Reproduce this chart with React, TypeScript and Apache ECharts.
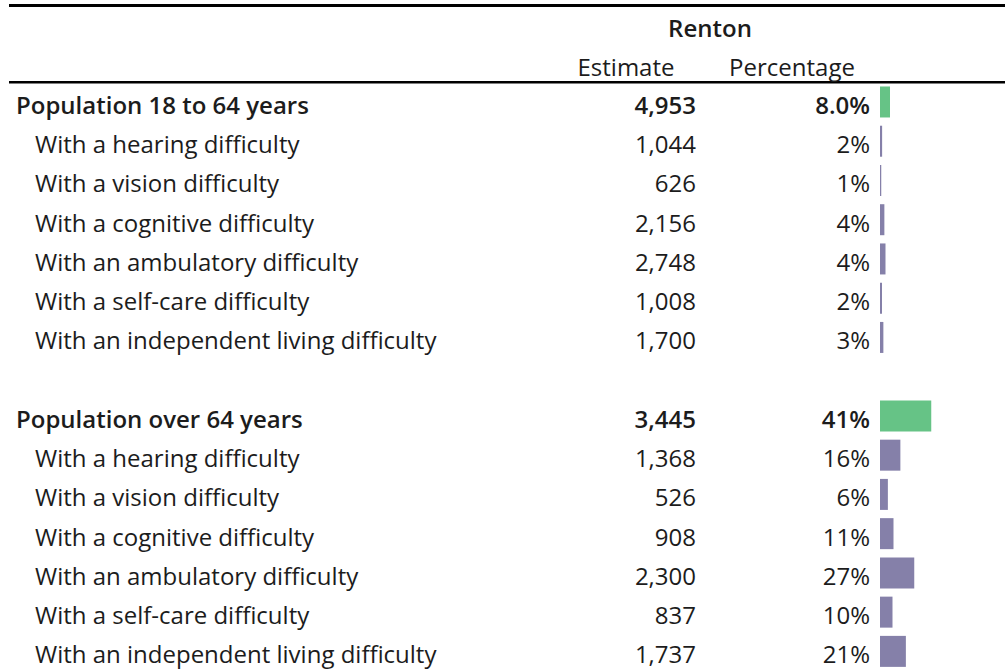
import React, { useEffect, useRef } from "react";
import * as echarts from "echarts";

const rowLabels = [
  "Population 18 to 64 years",
  "With a hearing difficulty",
  "With a vision difficulty",
  "With a cognitive difficulty",
  "With an ambulatory difficulty",
  "With a self-care difficulty",
  "With an independent living difficulty",
  "",
  "Population over 64 years",
  "With a hearing difficulty",
  "With a vision difficulty",
  "With a cognitive difficulty",
  "With an ambulatory difficulty",
  "With a self-care difficulty",
  "With an independent living difficulty",
];
const isHeaderRow = [true, false, false, false, false, false, false, false, true, false, false, false, false, false, false];
const estimates: (number | null)[] = [4953, 1044, 626, 2156, 2748, 1008, 1700, null, 3445, 1368, 526, 908, 2300, 837, 1737];
const percentLabels = ["8.0%", "2%", "1%", "4%", "4%", "2%", "3%", "", "41%", "16%", "6%", "11%", "27%", "10%", "21%"];
const percentValues: (number | null)[] = [8.0, 1.7, 1.0, 3.5, 4.4, 1.6, 2.7, null, 41, 16.3, 6.3, 10.8, 27.4, 10.0, 20.7];
const columnTitle = "Renton";
const colHeaders = ["Estimate", "Percentage"];

const FONT = "'Open Sans', Lato, sans-serif";
const FS = 24;
const TEXT = "#1c1c1c";
const GREEN = "#66c386";
const PURPLE = "#8580a9";

export default function App() {
  const ref = useRef<HTMLDivElement>(null);
  useEffect(() => {
    if (!ref.current) return;
    const chart = echarts.init(ref.current, null, { renderer: "svg" });
    const idx = rowLabels.map((_, i) => String(i));
    const gridLeft = 880;
    const band = 39.29;
    const gridTop = 102 - band / 2;
    const labelBase = {
      interval: 0,
      fontFamily: FONT,
      fontSize: FS,
      color: TEXT,
      padding: [5, 0, 0, 0],
    };
    const richB = { fontFamily: FONT, fontSize: FS, fontWeight: 600, color: TEXT };
    const richN = { fontFamily: FONT, fontSize: FS, color: TEXT };
    const baseAxis = {
      type: "category",
      inverse: true,
      position: "left",
      offset: 0,
      data: idx,
      axisLine: { show: false },
      axisTick: { show: false },
      splitLine: { show: false },
    };
    const option: any = {
      animation: false,
      grid: { left: gridLeft, top: gridTop, width: 136, height: band * 15 },
      xAxis: { type: "value", min: 0, max: 100, show: false },
      yAxis: [
        {
          ...baseAxis,
          axisLabel: {
            ...labelBase,
            align: "left",
            margin: gridLeft - 16,
            formatter: (v: string) => {
              const i = Number(v);
              if (!rowLabels[i]) return "";
              return isHeaderRow[i] ? `{b|${rowLabels[i]}}` : `{n|${rowLabels[i]}}`;
            },
            rich: { b: richB, n: { ...richN, padding: [0, 0, 0, 19] } },
          },
        },
        {
          ...baseAxis,
          axisLabel: {
            ...labelBase,
            align: "right",
            margin: gridLeft - 696,
            formatter: (v: string) => {
              const i = Number(v);
              const e = estimates[i];
              if (e == null) return "";
              const s = e.toLocaleString("en-US");
              return isHeaderRow[i] ? `{b|${s}}` : `{n|${s}}`;
            },
            rich: { b: richB, n: richN },
          },
        },
        {
          ...baseAxis,
          axisLabel: {
            ...labelBase,
            align: "right",
            margin: gridLeft - 870,
            formatter: (v: string) => {
              const i = Number(v);
              const s = percentLabels[i];
              if (!s) return "";
              return isHeaderRow[i] ? `{b|${s}}` : `{n|${s}}`;
            },
            rich: { b: richB, n: richN },
          },
        },
      ],
      series: [
        {
          type: "bar",
          yAxisIndex: 0,
          barWidth: 31,
          data: percentValues.map((v, i) => ({
            value: v,
            itemStyle: { color: isHeaderRow[i] ? GREEN : PURPLE },
          })),
        },
      ],
      graphic: [
        { type: "rect", shape: { x: 9, y: 4, width: 996, height: 3 }, style: { fill: "#000" } },
        { type: "rect", shape: { x: 9, y: 81, width: 996, height: 2.5 }, style: { fill: "#000" } },
        {
          type: "text",
          x: 710,
          y: 27,
          style: { text: columnTitle, font: `600 ${FS}px ${FONT}`, fill: TEXT, align: "center", verticalAlign: "middle" },
        },
        {
          type: "text",
          x: 626,
          y: 66,
          style: { text: colHeaders[0], font: `${FS}px ${FONT}`, fill: TEXT, align: "center", verticalAlign: "middle" },
        },
        {
          type: "text",
          x: 792,
          y: 66,
          style: { text: colHeaders[1], font: `${FS}px ${FONT}`, fill: TEXT, align: "center", verticalAlign: "middle" },
        },
      ],
    };
    chart.setOption(option);
    return () => chart.dispose();
  }, []);
  return (
    <div
      ref={ref}
      style={{ position: "absolute", left: 0, top: 0, width: 1005, height: 671, background: "#fff" }}
    />
  );
}
